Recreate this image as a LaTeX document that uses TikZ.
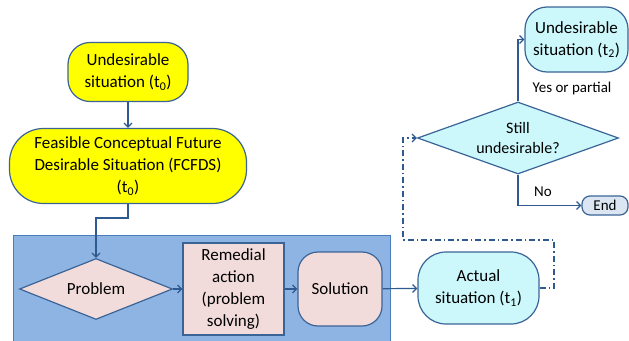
\documentclass[tikz,border=0pt]{standalone}
\usepackage{fontspec}
\setmainfont{Carlito}
\usetikzlibrary{shapes.geometric,arrows.meta}
\definecolor{edgec}{HTML}{3B6496}
\definecolor{arrowc}{HTML}{2E5A91}
\definecolor{yelc}{HTML}{FFFF00}
\definecolor{pinkc}{HTML}{F2DCDB}
\definecolor{cyanc}{HTML}{CCF8FC}
\definecolor{endc}{HTML}{DCE6F2}
\definecolor{boxfill}{HTML}{8EB4E3}
\definecolor{boxedge}{HTML}{4A7EBB}
\begin{document}
\begin{tikzpicture}[x=1pt,y=-1pt,
  base/.style={draw=edgec, line width=1.2pt, align=center, inner sep=0pt,
    font=\fontsize{17}{22}\selectfont, text=black},
  lab/.style={font=\fontsize{15}{18}\selectfont, inner sep=0pt},
  arr/.style={draw=arrowc, line width=1.2pt, -{Straight Barb[length=4pt,width=8pt]}},
  dd/.style={arr, dash pattern=on 6pt off 3pt on 1.5pt off 3pt}]
\useasboundingbox (0,0) rectangle (629,340);
\fill[white] (0,0) rectangle (629,340);
% background box
\node[draw=boxedge, fill=boxfill, line width=1.2pt, minimum width=377pt, minimum height=112pt, anchor=north west, inner sep=0pt] (box) at (13,235) {};
% nodes
\node[base, fill=yelc, rounded corners=22pt, minimum width=120pt, minimum height=59pt] (u0) at (128,72) {Undesirable\\situation (t\textsubscript{0})};
\node[base, fill=yelc, rounded corners=34pt, minimum width=237pt, minimum height=75pt] (fc) at (128,166) {Feasible Conceptual Future\\Desirable Situation (FCFDS)\\(t\textsubscript{0})};
\node[base, diamond, fill=pinkc, aspect=2.5, minimum width=153pt, minimum height=61pt] (prob) at (96,289) {Problem};
\node[base, rectangle, fill=pinkc, minimum width=101pt, minimum height=92pt] (rem) at (233.5,289) {Remedial\\action\\(problem\\solving)};
\node[base, fill=pinkc, rounded corners=20pt, minimum width=84pt, minimum height=74pt] (sol) at (340,289) {Solution};
\node[base, fill=cyanc, rounded corners=28pt, minimum width=121pt, minimum height=72pt] (act) at (478.5,288) {Actual\\situation (t\textsubscript{1})};
\node[base, diamond, fill=cyanc, aspect=2.8, minimum width=201pt, minimum height=72pt, font=\fontsize{16}{20}\selectfont] (still) at (518,138) {Still\\undesirable?};
\node[base, fill=cyanc, rounded corners=22pt, minimum width=103pt, minimum height=65pt] (u2) at (576.5,39.5) {Undesirable\\situation (t\textsubscript{2})};
\node[base, fill=endc, rounded corners=8pt, minimum width=46pt, minimum height=19pt, font=\fontsize{15}{18}\selectfont] (fin) at (605,205.5) {End};
% labels
\node[lab] (yes) at (572,88) {Yes or partial};
\node[lab] (no) at (543,192) {No};
% connectors
\coordinate (b1) at (128,218);
\coordinate (d1) at (554,288);
\coordinate (d2) at (554,240);
\coordinate (d3) at (403,240);
\draw[arr] (u0) -- (fc);
\draw[arr] (fc.south) -- (b1) -| (prob.north);
\draw[arr] (prob) -- (rem);
\draw[arr] (rem) -- (sol);
\draw[arr] (sol) -- (act);
\draw[arr] (still.north) |- (u2.west);
\draw[arr] (still.south) |- (fin.west);
\draw[dd] (act.east) -- (d1) -- (d2) -- (d3) |- (still.west);
\end{tikzpicture}
\end{document}
